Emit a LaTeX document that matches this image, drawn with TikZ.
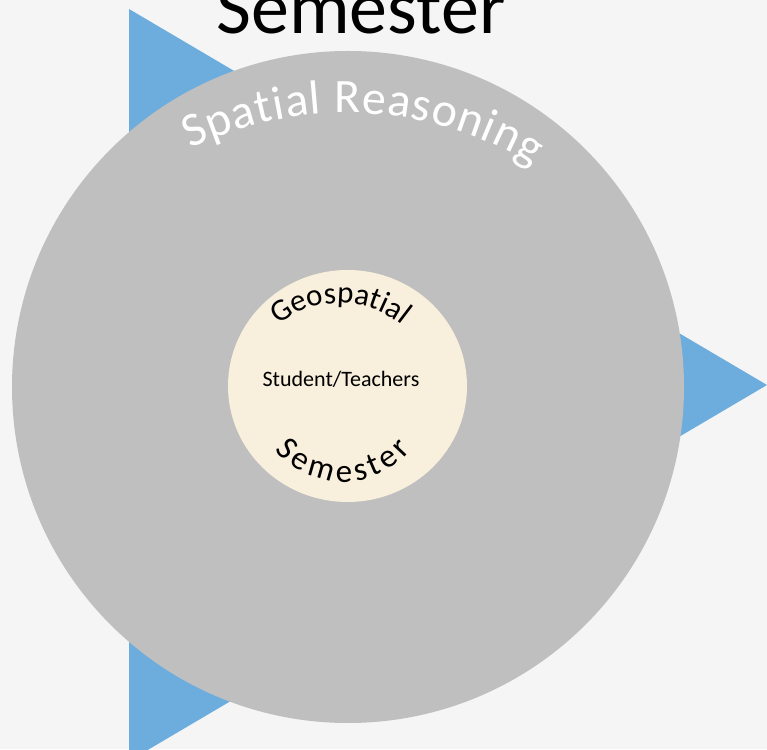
\documentclass[tikz,border=0pt]{standalone}
\usepackage{fontspec}
\setmainfont{Carlito}
\usetikzlibrary{decorations.text}
\definecolor{bgc}{HTML}{F5F5F5}
\definecolor{greyc}{HTML}{BFBFBF}
\definecolor{bluec}{HTML}{6CADDD}
\definecolor{creamc}{HTML}{F8EFDC}
\tikzset{
  arctext/.style={decorate, decoration={text along path, text align=fit to path, text color=#1}},
  plainlabel/.style={anchor=base, inner sep=0pt, text=black}
}
\begin{document}
\begin{tikzpicture}[x=1pt,y=1pt]
\useasboundingbox (0,0) rectangle (767,749);
\clip (0,0) rectangle (767,749);
\fill[bgc] (0,0) rectangle (767,749);
% arrow triangle behind
\coordinate (ta) at (129,740);
\coordinate (tb) at (767,364);
\coordinate (tc) at (129,-12);
\fill[bluec] (ta) -- (tb) -- (tc) -- cycle;
% big circle
\coordinate (c) at (348,362);
\fill[greyc] (c) circle[radius=336];
% inner circle
\coordinate (ic) at (347.5,363);
\fill[creamc] (ic) ellipse[x radius=119.5, y radius=116];
% title
\node[plainlabel, font=\fontsize{76}{76}\selectfont] (title) at (361,715) {Semester};
% centre label
\node[plainlabel, font=\fontsize{22}{22}\selectfont] (center) at (341,362) {Student/Teachers};
% curved texts
\coordinate (sc) at (347,279);
\path[arctext=white, decoration={text={|\fontsize{48}{48}\selectfont|Spatial Reasoning}}]
  (sc) ++(116:357) arc[start angle=116, end angle=58.6, radius=357];
\coordinate (gc) at (340,348);
\path[arctext=black, decoration={text={|\fontsize{31}{31}\selectfont|Geospatial}}]
  (gc) ++(129:98) arc[start angle=129, end angle=51, radius=98];
\coordinate (bc) at (343,355);
\path[arctext=black, decoration={text={|\fontsize{33}{33}\selectfont|Semester}}]
  (bc) ++(219.5:88) arc[start angle=219.5, end angle=320.5, radius=88];
\end{tikzpicture}
\end{document}
